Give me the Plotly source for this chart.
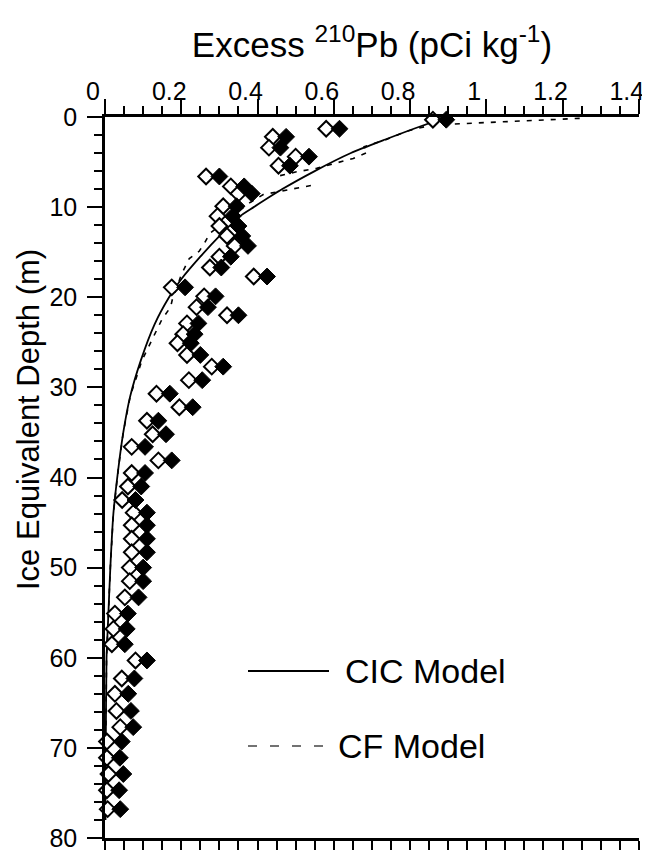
import plotly.graph_objects as go

# ---- data ----
depth = [0.3, 1.3, 2.2, 3.4, 4.4, 5.4, 6.6, 7.7, 8.5, 9.9, 11.0, 12.1, 13.2, 14.3,
         15.5, 16.7, 17.7, 18.9, 19.9, 21.1, 22.0, 22.9, 24.1, 25.1, 26.4, 27.7,
         29.2, 30.7, 32.2, 33.7, 35.2, 36.6, 38.1, 39.5, 41.0, 42.5, 43.9, 45.3,
         46.8, 48.3, 50.0, 51.5, 53.3, 55.1, 56.8, 58.5, 60.3, 62.3, 64.0, 65.9,
         67.7, 69.3, 71.1, 72.9, 74.7, 76.8]
pb_open = [0.86, 0.58, 0.44, 0.43, 0.50, 0.455, 0.265, 0.33, 0.35, 0.31, 0.295, 0.30,
           0.32, 0.34, 0.30, 0.275, 0.39, 0.175, 0.26, 0.24, 0.32, 0.215, 0.205, 0.19,
           0.215, 0.28, 0.22, 0.135, 0.195, 0.11, 0.125, 0.07, 0.14, 0.07, 0.06,
           0.045, 0.075, 0.07, 0.07, 0.07, 0.065, 0.065, 0.052, 0.026, 0.022, 0.018,
           0.08, 0.044, 0.026, 0.03, 0.04, 0.005, 0.005, 0.009, 0.005, 0.007]
pb_filled = [0.895, 0.615, 0.475, 0.46, 0.535, 0.485, 0.30, 0.365, 0.385, 0.345, 0.335,
             0.35, 0.36, 0.375, 0.33, 0.305, 0.425, 0.21, 0.29, 0.27, 0.35, 0.245,
             0.235, 0.225, 0.25, 0.31, 0.255, 0.17, 0.23, 0.14, 0.16, 0.105, 0.175,
             0.105, 0.095, 0.08, 0.11, 0.11, 0.11, 0.11, 0.10, 0.10, 0.088, 0.06,
             0.057, 0.052, 0.11, 0.077, 0.061, 0.068, 0.074, 0.044, 0.039, 0.048,
             0.037, 0.04]

cic_depth = [0, 1, 2.5, 4, 6, 8, 10, 11, 13, 15.5, 18, 20, 23, 27, 31, 35, 39, 44,
             50, 56, 60, 70, 78]
cic_val = [0.90, 0.83, 0.735, 0.645, 0.55, 0.465, 0.39, 0.354, 0.305, 0.25, 0.20,
           0.168, 0.13, 0.094, 0.066, 0.048, 0.035, 0.022, 0.014, 0.008, 0.004,
           0.002, 0.001]

cf_depth = [0.15, 0.35, 0.55, 0.75, 0.95, 1.6, 2.5, 3.3, 3.9, 4.6, 5.1, 5.7, 6.1, 6.6,
            None, 7.6, 7.9, 8.3, 8.6, 9.5, 10.5, 11.5, 12.9, 13.9, 14.9, 15.7, 17.5,
            19, 20, 21.1, 22.4, 25, 27, 31, 35, 39, 44, 50, 56, 60, 70, 78]
cf_val = [1.245, 1.13, 1.02, 0.93, 0.85, 0.79, 0.738, 0.68, 0.69, 0.651, 0.607, 0.555,
          0.50, 0.45, None, 0.54, 0.50, 0.446, 0.415, 0.38, 0.35, 0.32, 0.275, 0.262,
          0.247, 0.221, 0.20, 0.188, 0.178, 0.172, 0.15, 0.12, 0.097, 0.066, 0.048,
          0.035, 0.022, 0.014, 0.008, 0.004, 0.002, 0.001]

x_tick_vals = [0, 0.2, 0.4, 0.6, 0.8, 1.0, 1.2, 1.4]
x_tick_text = ["0", "0.2", "0.4", "0.6", "0.8", "1", "1.2", "1.4"]
y_tick_vals = [0, 10, 20, 30, 40, 50, 60, 70, 80]

FONT = "Liberation Sans, Arial, Helvetica, sans-serif"

# page body has an 8px default margin: figure is 642x846 so it fills the 650x854 window
PW, PH = 642, 846
ML, MR, MT, MB = 97, 11, 109, 16
PLOT_W = PW - ML - MR
PLOT_H = PH - MT - MB


def px_x(px):  # page pixel -> paper x
    return (px - 8 - ML) / PLOT_W


def px_y(py):  # page pixel -> paper y
    return 1 - (py - 8 - MT) / PLOT_H


fig = go.Figure()
fig.add_trace(go.Scatter(x=cf_val, y=cf_depth, mode="lines", connectgaps=False,
                         line=dict(color="black", width=1.6, dash="5px,7px"),
                         showlegend=False))
fig.add_trace(go.Scatter(x=cic_val, y=cic_depth, mode="lines",
                         line=dict(color="black", width=1.8, shape="spline", smoothing=0.6),
                         showlegend=False))
fig.add_trace(go.Scatter(x=pb_open, y=depth, mode="markers",
                         marker=dict(symbol="diamond", size=12, color="white",
                                     line=dict(color="black", width=2)),
                         showlegend=False, cliponaxis=False))
fig.add_trace(go.Scatter(x=pb_filled, y=depth, mode="markers",
                         marker=dict(symbol="diamond", size=13, color="black",
                                     line=dict(color="black", width=1)),
                         showlegend=False, cliponaxis=False))

fig.update_layout(
    width=PW, height=PH,
    margin=dict(l=ML, r=MR, t=MT, b=MB, autoexpand=False),
    paper_bgcolor="white", plot_bgcolor="white",
    font=dict(family=FONT, color="black"),
    xaxis=dict(
        side="top", range=[0, 1.4005], tickvals=x_tick_vals, ticktext=x_tick_text,
        ticks="outside", ticklen=15, tickwidth=2, tickcolor="black",
        ticklabelshift=-12, ticklabelstandoff=-11,
        minor=dict(dtick=0.05, ticks="outside", ticklen=8, tickwidth=1.5, tickcolor="black"),
        showline=True, linewidth=2.5, linecolor="black", showgrid=False, zeroline=False,
        tickfont=dict(size=25, family=FONT), automargin=False,
        title=dict(text="Excess <sup>210</sup>Pb (pCi kg<sup>-1</sup>)",
                   font=dict(size=35, family=FONT), standoff=10),
    ),
    xaxis2=dict(
        overlaying="x", side="bottom", anchor="y", range=[0, 1.4005],
        tickvals=[i * 0.05 for i in range(29)], showticklabels=False,
        ticks="outside", ticklen=9, tickwidth=1.5, tickcolor="black",
        showline=True, linewidth=2.5, linecolor="black", showgrid=False, zeroline=False,
        automargin=False,
    ),
    yaxis=dict(
        range=[80, 0], tickvals=y_tick_vals,
        ticks="outside", ticklen=15, tickwidth=2, tickcolor="black",
        ticklabelstandoff=5,
        minor=dict(dtick=2, ticks="outside", ticklen=8, tickwidth=1.5, tickcolor="black"),
        showline=True, linewidth=2.5, linecolor="black", showgrid=False, zeroline=False,
        tickfont=dict(size=25, family=FONT), automargin=False,
    ),
)
# invisible trace to activate bottom axis
fig.add_trace(go.Scatter(x=[None], y=[None], xaxis="x2", showlegend=False))

# y-axis title (placed as in the reference, above the plot centre)
fig.add_annotation(text="Ice Equivalent Depth (m)", xref="paper", yref="paper",
                   x=px_x(28), y=px_y(420), textangle=-90, showarrow=False,
                   xanchor="center", yanchor="middle", font=dict(size=31, family=FONT))

# manual legend
fig.add_shape(type="line", xref="paper", yref="paper",
              x0=px_x(248), x1=px_x(329), y0=px_y(671), y1=px_y(671),
              line=dict(color="black", width=2))
fig.add_shape(type="line", xref="paper", yref="paper",
              x0=px_x(248), x1=px_x(326), y0=px_y(746), y1=px_y(746),
              line=dict(color="#444", width=1.5, dash="9px,13px"))
fig.add_annotation(text="CIC Model", xref="paper", yref="paper",
                   x=px_x(343), y=px_y(671),
                   xanchor="left", yanchor="middle", showarrow=False,
                   font=dict(size=34, family=FONT))
fig.add_annotation(text="CF Model", xref="paper", yref="paper",
                   x=px_x(336), y=px_y(746),
                   xanchor="left", yanchor="middle", showarrow=False,
                   font=dict(size=34, family=FONT))

fig.write_html("out.html")
